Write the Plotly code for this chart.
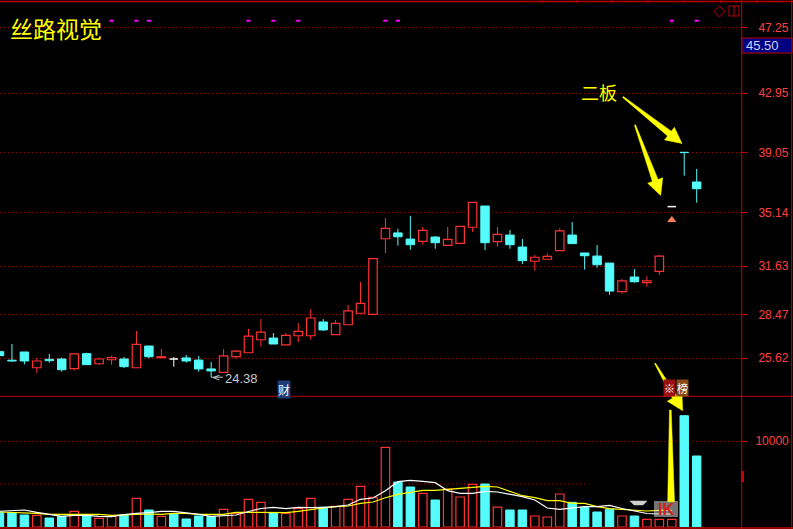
import math
import plotly.graph_objects as go

# ---------------- data ----------------
bar_index = list(range(57))
open_ = [26.05, 25.49, 26.03, 25.00, 25.55, 25.57, 24.94, 25.92, 25.26, 25.52,
         25.57, 25.00, 26.42, 25.66, 25.57, 25.64, 25.50, 24.92, 24.70, 25.72,
         25.98, 26.83, 26.94, 26.50, 27.09, 27.09, 27.99, 27.16, 27.81, 28.56,
         28.49, 33.43, 33.81, 33.41, 33.26, 33.54, 33.00, 33.13, 34.18, 35.57,
         33.24, 33.67, 32.89, 31.96, 32.09, 32.65, 33.67, 32.50, 32.30, 31.84,
         29.97, 30.93, 30.56, 31.30, 35.53, 39.08, 37.14]
high = [26.05, 26.55, 26.03, 25.62, 25.90, 25.66, 25.90, 25.98, 25.66, 25.79,
        25.70, 27.40, 26.42, 26.22, 25.70, 25.83, 25.77, 25.37, 26.22, 26.16,
        27.53, 28.18, 27.27, 27.27, 27.92, 28.84, 28.18, 28.12, 29.10, 30.60,
        32.13, 34.79, 34.07, 34.92, 34.20, 33.61, 34.20, 34.24, 35.81, 35.57,
        34.20, 34.00, 33.41, 32.37, 32.48, 34.11, 34.52, 32.50, 33.02, 31.84,
        30.80, 31.45, 30.98, 32.37, 35.53, 39.08, 37.99]
low = [25.79, 25.39, 25.22, 24.64, 25.33, 24.74, 24.81, 25.20, 25.18, 25.20,
       24.98, 25.00, 25.62, 25.64, 25.07, 25.33, 24.74, 24.38, 24.70, 25.59,
       25.98, 26.37, 26.55, 26.50, 26.68, 26.83, 27.40, 27.16, 27.81, 28.56,
       28.49, 32.50, 32.98, 32.71, 33.04, 32.78, 33.00, 33.13, 33.87, 32.69,
       32.91, 32.78, 31.78, 31.34, 32.09, 32.65, 33.11, 31.41, 31.54, 29.77,
       29.84, 30.56, 30.30, 31.06, 35.53, 37.55, 35.79]
close = [25.79, 25.44, 25.44, 25.44, 25.46, 24.87, 25.90, 25.20, 25.57, 25.66,
         25.07, 26.53, 25.72, 25.72, 25.57, 25.44, 24.92, 24.79, 25.77, 26.09,
         27.07, 27.33, 26.55, 27.12, 27.38, 28.25, 27.47, 27.90, 28.71, 29.21,
         32.13, 34.11, 33.56, 33.04, 33.98, 33.17, 33.39, 34.24, 35.81, 33.17,
         33.72, 33.04, 32.00, 32.22, 32.28, 33.94, 33.11, 32.32, 31.73, 30.01,
         30.67, 30.62, 30.67, 32.30, 35.53, 39.06, 36.70]
volume = [1663, 1663, 1395, 1360, 1047, 1240, 1822, 1360, 1008, 1240,
          1360, 3333, 1977, 1240, 1512, 930, 1279, 1200, 2054, 1589,
          3217, 2868, 1663, 1589, 2171, 3333, 2287, 2403, 3217, 4729,
          3450, 9264, 5233, 4651, 3915, 3140, 4419, 3488, 4961, 5000,
          2300, 1977, 1977, 1279, 1163, 3837, 2868, 2287, 1744, 2054,
          1279, 1279, 895, 895, 895, 12942, 8256]
vol_ma5 = [1826, 1860, 1977, 1709, 1477, 1244, 1360, 1360, 1244, 1198,
           1430, 1593, 1663, 1826, 1826, 1663, 1477, 1244, 1360, 1395,
           1802, 2151, 2291, 2128, 2291, 2244, 2291, 2360, 2558, 3221,
           3372, 4221, 5267, 5430, 5314, 5151, 4221, 3919, 3919, 4151,
           4070, 3837, 3523, 3140, 2209, 2058, 2174, 2360, 2360, 2523,
           2151, 1860, 1570, 1512, 1512]
vol_ma10 = [1744, 1709, 1593, 1593, 1477, 1477, 1547, 1547, 1477, 1360,
            1395, 1512, 1512, 1477, 1593, 1593, 1477, 1477, 1477, 1709,
            1686, 1663, 1663, 1663, 1826, 2058, 2209, 2360, 2442, 2756,
            2907, 3407, 3802, 4035, 4267, 4267, 4384, 4500, 4686, 4733,
            4651, 4186, 3640, 3407, 3058, 3058, 2756, 2756, 2360, 2128,
            2012, 1895, 1860, 1942, 1942]
price_ticks = [25.62, 28.47, 31.63, 35.14, 39.05, 42.95, 47.25]
vol_ticks = [10000]
signal_idx = [9, 11, 12, 20, 22, 24, 31, 32, 54, 56]
low_mark_idx = 17
limit_mark_idx = 54
current_price = 45.50
title_text = "丝路视觉"
note_text = "二板"

# ---------------- styling / layout helpers ----------------
RED = "#ff3232"
CYAN = "#54fcfc"
WHITE = "#ffffff"
YELLOW = "#ffff00"
GRID = "#a00000"
FRAME = "#c00000"
W, H = 793, 529
ML, MR, MT, MB = 0, 52, 3, 2
PW, PH = W - ML - MR, H - MT - MB


def px(x):
    return (x - ML) / PW


def py(y):
    return 1 - (y - MT) / PH


def candle_color(i):
    if close[i] > open_[i]:
        return RED
    if close[i] < open_[i]:
        return CYAN
    return WHITE


def volume_color(i):
    if close[i] > open_[i]:
        return RED
    if close[i] < open_[i]:
        return CYAN
    prev = close[i - 1] if i > 0 else close[i]
    return RED if close[i] > prev else CYAN


fig = go.Figure()

# wicks (upper and lower parts, never through the body)
for col in (RED, CYAN, WHITE):
    xs, ys = [], []
    for i in bar_index:
        if candle_color(i) != col:
            continue
        top = max(open_[i], close[i])
        bot = min(open_[i], close[i])
        if high[i] > top:
            xs += [i, i, None]
            ys += [top, high[i], None]
        if low[i] < bot:
            xs += [i, i, None]
            ys += [low[i], bot, None]
    fig.add_trace(go.Scatter(x=xs, y=ys, mode="lines", line=dict(color=col, width=1),
                             hoverinfo="skip", yaxis="y"))

# doji horizontal strokes
dx, dy = [], []
for i in bar_index:
    if close[i] == open_[i]:
        dx += [i - 0.34, i + 0.34, None]
        dy += [close[i], close[i], None]
fig.add_trace(go.Scatter(x=dx, y=dy, mode="lines", line=dict(color=WHITE, width=1.5),
                         hoverinfo="skip", yaxis="y"))

BODY_W = 0.68
# up bodies (hollow red)
ux = [i for i in bar_index if close[i] > open_[i]]
fig.add_trace(go.Bar(x=ux, base=[open_[i] for i in ux], y=[close[i] - open_[i] for i in ux],
                     width=BODY_W, marker=dict(color="black", line=dict(color=RED, width=1.2)),
                     yaxis="y", hoverinfo="skip"))
# down bodies (filled cyan)
dn = [i for i in bar_index if close[i] < open_[i]]
fig.add_trace(go.Bar(x=dn, base=[close[i] for i in dn], y=[open_[i] - close[i] for i in dn],
                     width=BODY_W, marker=dict(color=CYAN, line=dict(color=CYAN, width=1)),
                     yaxis="y", hoverinfo="skip"))

# volume bars
vu = [i for i in bar_index if volume_color(i) == RED]
vd = [i for i in bar_index if volume_color(i) == CYAN]
fig.add_trace(go.Bar(x=vu, y=[volume[i] for i in vu], width=BODY_W,
                     marker=dict(color="black", line=dict(color=RED, width=1.2)),
                     yaxis="y2", hoverinfo="skip"))
fig.add_trace(go.Bar(x=vd, y=[volume[i] for i in vd], width=BODY_W,
                     marker=dict(color=CYAN, line=dict(color=CYAN, width=1)),
                     yaxis="y2", hoverinfo="skip"))
fig.add_trace(go.Scatter(x=list(range(len(vol_ma10))), y=vol_ma10, mode="lines",
                         line=dict(color=YELLOW, width=1.2), yaxis="y2", hoverinfo="skip"))
fig.add_trace(go.Scatter(x=list(range(len(vol_ma5))), y=vol_ma5, mode="lines",
                         line=dict(color=WHITE, width=1.2), yaxis="y2", hoverinfo="skip"))

# signal dashes at the top
fig.add_trace(go.Scatter(x=signal_idx, y=[47.68] * len(signal_idx), mode="markers",
                         marker=dict(symbol="line-ew", size=3,
                                     line=dict(color="#ff00ff", width=2)),
                         yaxis="y", hoverinfo="skip"))
# orange mark below the one-price board
fig.add_trace(go.Scatter(x=[limit_mark_idx], y=[low[limit_mark_idx] - 0.87], mode="markers",
                         marker=dict(symbol="triangle-up", size=8, color="#ff7f50"),
                         yaxis="y", hoverinfo="skip"))

shapes = []


def hline(y, x0, x1, color=FRAME, width=1, dash=None):
    shapes.append(dict(type="line", xref="paper", yref="paper", x0=px(x0), x1=px(x1),
                       y0=py(y), y1=py(y), line=dict(color=color, width=width, dash=dash),
                       layer="above"))


def vline(x, y0, y1, color=FRAME, width=1):
    shapes.append(dict(type="line", xref="paper", yref="paper", x0=px(x), x1=px(x),
                       y0=py(y0), y1=py(y1), line=dict(color=color, width=width),
                       layer="above"))


def poly(points, color, line_color=None):
    d = "M " + " L ".join(f"{px(a):.5f},{py(b):.5f}" for a, b in points) + " Z"
    shapes.append(dict(type="path", xref="paper", yref="paper", path=d,
                       fillcolor=color, line=dict(color=line_color or color, width=0.5),
                       layer="above"))


def arrow(x0, y0, x1, y1, wt=1.2, ws=6, wh=16, hl=16):
    L = math.hypot(x1 - x0, y1 - y0)
    ux_, uy_ = (x1 - x0) / L, (y1 - y0) / L
    nx, ny = -uy_, ux_
    bx, by = x1 - ux_ * hl, y1 - uy_ * hl
    pts = [(x0 + nx * wt / 2, y0 + ny * wt / 2),
           (bx + nx * ws / 2, by + ny * ws / 2),
           (bx + nx * wh / 2, by + ny * wh / 2),
           (x1, y1),
           (bx - nx * wh / 2, by - ny * wh / 2),
           (bx - nx * ws / 2, by - ny * ws / 2),
           (x0 - nx * wt / 2, y0 - ny * wt / 2)]
    poly(pts, YELLOW)


# frame lines
hline(1.5, 0, W, width=1.5)
hline(396.3, 0, W, width=1)
hline(528, 0, W, width=1.5)
vline(741.7, 0, H)
vline(791.7, 0, H)
for tx in [542, 577, 612, 648, 684, 721, 757]:
    vline(tx, 0, 3)
# partial 5000 grid line in the volume pane
shapes.append(dict(type="line", xref="paper", yref="y2", x0=0, x1=px(587), y0=5000, y1=5000,
                   line=dict(color=GRID, width=1, dash="1px,3px"), layer="below"))
# small red mark on the volume axis
shapes.append(dict(type="rect", xref="paper", yref="paper", x0=px(741.5), x1=px(744),
                   y0=py(482), y1=py(471), fillcolor="#d00000", line=dict(width=0), layer="above"))
# top-right icons
poly([(719.5, 6), (725, 11.5), (719.5, 17), (714, 11.5)], "rgba(0,0,0,0)", FRAME)
shapes[-1]["line"]["width"] = 1
shapes.append(dict(type="rect", xref="paper", yref="paper", x0=px(729), x1=px(739),
                   y0=py(16), y1=py(6), line=dict(color=FRAME, width=1), layer="above"))
vline(734, 6, 16)
# current price box
shapes.append(dict(type="rect", xref="paper", yref="paper", x0=px(742), x1=px(792),
                   y0=py(53), y1=py(38), fillcolor="#000080", line=dict(color=FRAME, width=1),
                   layer="above"))
# overlay icon in volume pane
poly([(630, 501), (647, 501), (643, 505), (634, 505)], "#d0d0d0")
shapes.append(dict(type="rect", xref="paper", yref="paper", x0=px(654), x1=px(678),
                   y0=py(517), y1=py(501), fillcolor="rgba(210,210,210,0.55)",
                   line=dict(width=0), layer="above"))
# arrow line of the low label
shapes.append(dict(type="line", xref="x", yref="y", x0=low_mark_idx, x1=low_mark_idx + 0.95,
                   y0=low[low_mark_idx], y1=low[low_mark_idx],
                   line=dict(color="#c8c8c8", width=1), layer="above"))

# yellow arrows
arrow(623, 97, 682, 143.5)
arrow(635, 125, 660.7, 195.5)
arrow(655, 363.3, 682.7, 410.7, wt=1, ws=5, wh=17, hl=16)
poly([(669.5, 410), (671.2, 410), (674.5, 501.7), (667.7, 501.7)], YELLOW)

annotations = [
    dict(xref="paper", yref="paper", x=px(8), y=py(27.5), xanchor="left", yanchor="middle",
         text=title_text, showarrow=False,
         font=dict(color=YELLOW, size=23, family="Noto Sans CJK SC")),
    dict(xref="paper", yref="paper", x=px(598.5), y=py(91.5), xanchor="center", yanchor="middle",
         text=note_text, showarrow=False,
         font=dict(color=YELLOW, size=18, family="Noto Sans CJK SC")),
    dict(xref="x", yref="y", x=low_mark_idx, y=low[low_mark_idx], xanchor="left", yanchor="middle",
         text="<", showarrow=False, xshift=-1, yshift=0,
         font=dict(color="#c8c8c8", size=10, family="DejaVu Sans")),
    dict(xref="x", yref="y", x=low_mark_idx + 0.95, y=low[low_mark_idx], xanchor="left",
         yanchor="middle", text=f"{low[low_mark_idx]:.2f}", showarrow=False, yshift=-1,
         font=dict(color="#c8c8c8", size=13, family="Liberation Sans")),
    dict(xref="paper", yref="paper", x=px(283.5), y=py(389), xanchor="center", yanchor="middle",
         text="财", showarrow=False, bgcolor="#1e3c78", borderpad=0,
         font=dict(color=WHITE, size=12, family="Noto Sans CJK SC")),
    dict(xref="paper", yref="paper", x=px(669), y=py(388), xanchor="center", yanchor="middle",
         text="※", showarrow=False, bgcolor="#9b1010", borderpad=0,
         font=dict(color=WHITE, size=11, family="Noto Sans CJK SC")),
    dict(xref="paper", yref="paper", x=px(682.5), y=py(388), xanchor="center", yanchor="middle",
         text="榜", showarrow=False, bgcolor="#8a4a1a", borderpad=0,
         font=dict(color=WHITE, size=11, family="Noto Sans CJK SC")),
    dict(xref="paper", yref="paper", x=px(666), y=py(509), xanchor="center", yanchor="middle",
         text="<b>IK</b>", showarrow=False,
         font=dict(color="#d02020", size=16, family="Liberation Sans")),
    dict(xref="paper", yref="paper", x=px(744), y=py(45.5), xanchor="left", yanchor="middle",
         text=f"{current_price:.2f}", showarrow=False,
         font=dict(color="#d0d0ff", size=13, family="Liberation Sans")),
]

# axis ranges (pixel calibration of the picture)
PRICE_TOP_PX, PRICE_BOT_PX = 3, 396
PX_PER_YUAN = 15.3
REF_PRICE, REF_PX = 47.25, 27.3
price_range = [REF_PRICE - (PRICE_BOT_PX - REF_PX) / PX_PER_YUAN,
               REF_PRICE + (REF_PX - PRICE_TOP_PX) / PX_PER_YUAN]
vol_range = [0, 10000 * (527 - 397) / 86]

fig.update_layout(
    width=W, height=H,
    margin=dict(l=ML, r=MR, t=MT, b=MB, pad=0),
    paper_bgcolor="black", plot_bgcolor="black",
    showlegend=False, barmode="overlay", hovermode=False,
    font=dict(family="Noto Sans CJK SC", color=WHITE),
    xaxis=dict(range=[0.04, 59.56], visible=False, domain=[0, 1], anchor="y2",
               fixedrange=True),
    yaxis=dict(domain=[py(PRICE_BOT_PX), 1], range=price_range, side="right", anchor="x",
               tickvals=price_ticks, ticktext=[f"{v:.2f}" for v in price_ticks],
               tickfont=dict(color="#ff4040", size=12, family="Liberation Sans"),
               ticks="outside", ticklen=5, tickcolor=FRAME, ticklabelstandoff=9,
               showgrid=True, gridcolor=GRID, griddash="1px,3px", gridwidth=1,
               zeroline=False, showline=False, fixedrange=True),
    yaxis2=dict(domain=[0, py(397)], range=vol_range, side="right", anchor="x",
                tickvals=vol_ticks, ticktext=[str(v) for v in vol_ticks],
                tickfont=dict(color="#ff4040", size=12, family="Liberation Sans"),
                ticks="outside", ticklen=5, tickcolor=FRAME, ticklabelstandoff=6,
                showgrid=True, gridcolor=GRID, griddash="1px,3px", gridwidth=1,
                zeroline=False, showline=False, fixedrange=True),
    shapes=shapes,
    annotations=annotations,
)

fig.write_html("out.html", config={"displayModeBar": False},
               post_script="document.body.style.margin='0';document.body.style.overflow='hidden';")
